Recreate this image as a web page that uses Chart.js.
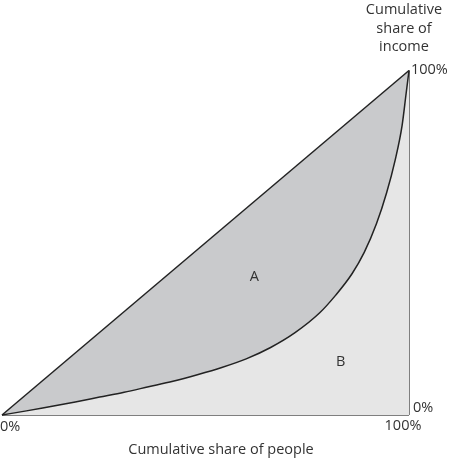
<!DOCTYPE html>
<html>
<head>
<meta charset="utf-8">
<script src="https://cdn.jsdelivr.net/npm/chart.js@4"></script>
<style>
html,body{margin:0;padding:0;background:#fff;}
#wrap{width:454px;height:460px;}
</style>
</head>
<body>
<div id="wrap"><canvas id="c" width="454" height="460"></canvas></div>
<script>
// Data (percent)
const curveX = [0, 6, 12, 18, 24, 30, 36, 42, 48, 54, 60, 66, 72, 78, 82, 86, 89, 92, 94.5, 96.6, 98.3, 99.3, 100];
const curveY = [0, 1.2, 2.5, 3.8, 5.2, 6.6, 8.2, 9.8, 11.7, 13.8, 16.3, 19.6, 23.9, 29.6, 34.8, 41.0, 47.2, 55.5, 64.5, 74, 84, 93.4, 100];
const equalityX = [0, 100];
const equalityY = [0, 100];
const xTickValues = [0, 100];
const xTickLabels = ['0%', '100%'];
const yTickValues = [0, 100];
const yTickLabels = ['0%', '100%'];
const xTitle = 'Cumulative share of people';
const yTitle = ['Cumulative', 'share of', 'income'];
const regionLabels = ['A', 'B'];
const regionX = [62, 83.2];
const regionY = [40, 15.4];

const toPts = (xs, ys) => xs.map((x, i) => ({x: x, y: ys[i]}));
const FONT = '14.5px "Open Sans", Lato, sans-serif';
const TXT = '#333';

const textPlugin = {
  id: 'texts',
  afterDraw(chart) {
    const ctx = chart.ctx;
    const xs = chart.scales.x, ys = chart.scales.y;
    ctx.save();
    ctx.font = FONT;
    ctx.fillStyle = TXT;
    ctx.textBaseline = 'middle';
    // x tick labels
    ctx.textAlign = 'left';
    ctx.fillText(xTickLabels[0], xs.getPixelForValue(xTickValues[0]) - 2, ys.getPixelForValue(0) + 12);
    ctx.textAlign = 'center';
    ctx.fillText(xTickLabels[1], xs.getPixelForValue(xTickValues[1]) - 6, ys.getPixelForValue(0) + 11);
    // y tick labels
    ctx.textAlign = 'left';
    ctx.fillText(yTickLabels[0], xs.getPixelForValue(100) + 4, ys.getPixelForValue(yTickValues[0]) - 7);
    ctx.fillText(yTickLabels[1], xs.getPixelForValue(100) + 2, ys.getPixelForValue(yTickValues[1]) - 1);
    // titles
    ctx.textAlign = 'center';
    ctx.fillText(xTitle, 221, ys.getPixelForValue(0) + 35);
    yTitle.forEach((t, i) => ctx.fillText(t, 404, 10 + i * 18.5));
    // region labels
    regionLabels.forEach((t, i) => ctx.fillText(t, xs.getPixelForValue(regionX[i]), ys.getPixelForValue(regionY[i])));
    ctx.restore();
  }
};

new Chart(document.getElementById('c'), {
  type: 'scatter',
  data: {
    datasets: [
      {
        label: 'Lorenz curve',
        data: toPts(curveX, curveY),
        showLine: true,
        borderColor: '#222',
        borderWidth: 1.5,
        pointRadius: 0,
        cubicInterpolationMode: 'monotone',
        fill: 'origin',
        backgroundColor: '#e6e6e6',
        clip: false
      },
      {
        label: 'Equality',
        data: toPts(equalityX, equalityY),
        showLine: true,
        borderColor: '#222',
        borderWidth: 1.5,
        pointRadius: 0,
        fill: 'origin',
        backgroundColor: '#c9cacc',
        clip: false
      },
      {
        label: 'Bottom',
        data: toPts([0, 100], [0, 0]),
        showLine: true,
        borderColor: '#555',
        borderWidth: 1.5,
        pointRadius: 0,
        fill: false,
        clip: false
      },
      {
        label: 'Right',
        data: toPts([100, 100], [0, 100]),
        showLine: true,
        borderColor: '#555',
        borderWidth: 1.5,
        pointRadius: 0,
        fill: false,
        clip: false
      }
    ]
  },
  options: {
    responsive: false,
    animation: false,
    layout: {padding: {left: 2, right: 45, top: 70.5, bottom: 45}},
    plugins: {legend: {display: false}, tooltip: {enabled: false}},
    scales: {
      x: {type: 'linear', min: 0, max: 100, display: false},
      y: {type: 'linear', min: 0, max: 100, display: false}
    }
  },
  plugins: [textPlugin]
});
</script>
</body>
</html>
